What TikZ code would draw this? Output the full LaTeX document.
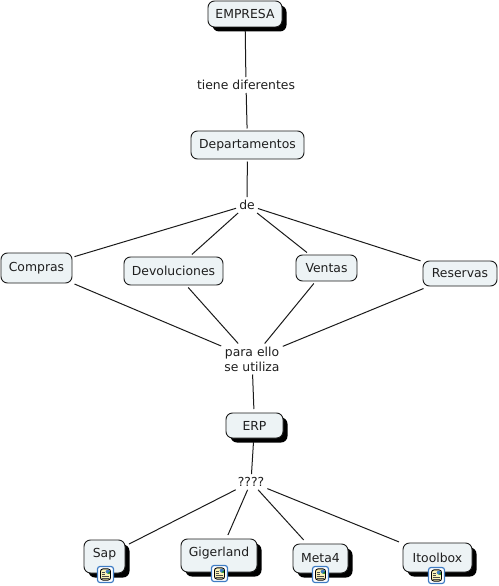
\documentclass[tikz,border=0pt]{standalone}
\usepackage{fontspec}
\setmainfont{DejaVu Sans}
\usepackage{xcolor}
\definecolor{cFill}{HTML}{EDF3F5}
\definecolor{cLine}{HTML}{1A1A1A}
\definecolor{cText}{HTML}{1F1F1F}
\definecolor{cIcon}{HTML}{3F7CC4}
\definecolor{cPage}{HTML}{FBF3B8}
\usepackage{tikz}
\usetikzlibrary{positioning,shadows}
\tikzset{
  node-box/.style={draw=cLine,line width=0.9pt,fill=cFill,rounded corners=6.5pt,
    inner sep=0pt,outer sep=2.5pt,text=cText,font=\fontsize{12.4}{15}\selectfont},
  node-deep/.style={node-box,outer sep=4pt,
    drop shadow={shadow xshift=4.5pt,shadow yshift=-4.5pt,opacity=1,fill=black}},
  node-raised/.style={text height=9pt,text depth=8pt},
  node-link/.style={inner sep=3pt,align=center,text=cText,
    font=\fontsize{12.4}{15}\selectfont},
  node-icon/.style={draw=cIcon,line width=1.2pt,fill=white,rounded corners=2.5pt,
    inner sep=0pt,minimum size=16pt,
    path picture={
      \begin{scope}[shift={(path picture bounding box.center)}]
        \draw[black,line width=0.9pt,fill=cPage] (-5pt,-5.6pt) rectangle (5pt,5.6pt);
        \fill[cIcon] (0.2pt,0.8pt) rectangle (4.4pt,5pt);
        \fill[green!50!black] (1.5pt,0.8pt) -- (4.4pt,0.8pt) -- (4.4pt,2.8pt) -- cycle;
        \draw[black!70,line width=0.6pt] (-3.8pt,-3.8pt) -- (3.8pt,-3.8pt)
          (-3.8pt,-1.8pt) -- (3.8pt,-1.8pt) (-3.8pt,0.2pt) -- (-1pt,0.2pt)
          (-3.8pt,2.2pt) -- (-1pt,2.2pt);
      \end{scope}}},
  arrow/.style={line width=1pt,draw=cLine},
}
\begin{document}
\begin{tikzpicture}[on grid]
  \useasboundingbox (0pt,0pt) rectangle (498pt,-586pt);
  \node[node-deep,minimum width=74pt,minimum height=26pt] (empresa) at (245pt,-14pt) {EMPRESA};
  \node[node-link,below right=71pt and 1pt of empresa]    (tiene) {tiene diferentes};
  \node[node-box,minimum width=113pt,minimum height=28pt,below right=60pt and 1.5pt of tiene] (depart) {Departamentos};
  \node[node-link,below left=60pt and 0.5pt of depart]    (de) {de};
  \node[node-box,minimum width=71pt,minimum height=30pt,below left=63pt and 210.5pt of de]   (compras) {Compras};
  \node[node-box,minimum width=99pt,minimum height=28pt,below left=66pt and 73.5pt of de]    (devol) {Devoluciones};
  \node[node-box,minimum width=61pt,minimum height=26pt,below right=63pt and 79.5pt of de]   (ventas) {Ventas};
  \node[node-box,minimum width=74pt,minimum height=25pt,below right=68.5pt and 213pt of de]  (reservas) {Reservas};
  \node[node-link,below right=154pt and 5pt of de]        (para) {para ello\\se utiliza};
  \node[node-deep,minimum width=57pt,minimum height=25pt,below right=66.5pt and 2.5pt of para] (erp) {ERP};
  \node[node-link,below left=56.5pt and 3.5pt of erp]     (dudas) {????};
  \node[node-deep,node-raised,minimum width=41pt,minimum height=33pt,below left=74.5pt and 146.5pt of dudas] (sap) {Sap};
  \node[node-deep,node-raised,minimum width=76pt,minimum height=33pt,below left=73.5pt and 32pt of dudas]    (giger) {Gigerland};
  \node[node-deep,minimum width=55pt,minimum height=29pt,below right=76.5pt and 69.5pt of dudas] (meta) {Meta4};
  \node[node-deep,minimum width=69pt,minimum height=29pt,below right=75.5pt and 186.5pt of dudas] (itool) {Itoolbox};
  \node[node-icon,below right=18pt and 1pt of sap]    (icon-sap) {};
  \node[node-icon,below right=18pt and 0.5pt of giger] (icon-giger) {};
  \node[node-icon,below=16pt of meta]                 (icon-meta) {};
  \node[node-icon,below left=18pt and 1pt of itool]   (icon-itool) {};
  \draw[arrow] (empresa) -- (tiene);
  \draw[arrow] (tiene)   -- (depart);
  \draw[arrow] (depart)  -- (de);
  \foreach \n in {compras,devol,ventas,reservas} {
    \draw[arrow] (de) -- (\n);
    \draw[arrow] (\n) -- (para);
  }
  \draw[arrow] (para)  -- (erp);
  \draw[arrow] (erp)   -- (dudas);
  \foreach \n in {sap,giger,meta,itool}
    \draw[arrow] (dudas) -- (\n);
\end{tikzpicture}
\end{document}
